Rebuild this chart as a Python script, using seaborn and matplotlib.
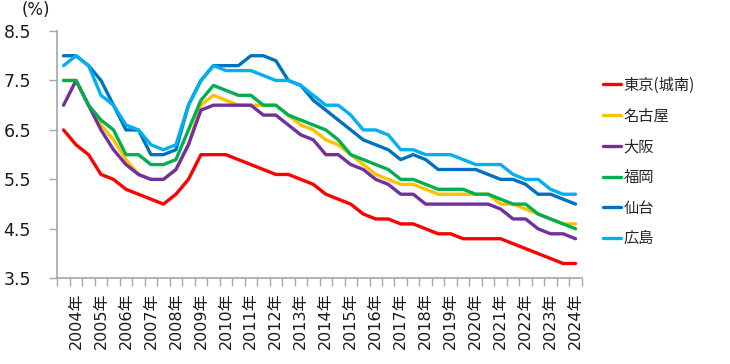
import matplotlib
matplotlib.use("Agg")
import matplotlib.pyplot as plt
import pandas as pd
import seaborn as sns

# semiannual survey points, 2003年10月 .. 2024年4月 (42 points)
tokyo = [6.5, 6.2, 6.0, 5.6, 5.5, 5.3, 5.2, 5.1, 5.0, 5.2, 5.5, 6.0, 6.0, 6.0, 5.9, 5.8, 5.7, 5.6, 5.6, 5.5, 5.4,
         5.2, 5.1, 5.0, 4.8, 4.7, 4.7, 4.6, 4.6, 4.5, 4.4, 4.4, 4.3, 4.3, 4.3, 4.3, 4.2, 4.1, 4.0, 3.9, 3.8, 3.8]
nagoya = [7.5, 7.5, 7.0, 6.6, 6.3, 5.9, 5.6, 5.5, 5.5, 5.7, 6.2, 7.0, 7.2, 7.1, 7.0, 7.0, 7.0, 7.0, 6.8, 6.6, 6.5,
          6.3, 6.2, 6.0, 5.8, 5.6, 5.5, 5.4, 5.4, 5.3, 5.2, 5.2, 5.2, 5.2, 5.2, 5.0, 5.0, 4.9, 4.8, 4.7, 4.6, 4.6]
osaka = [7.0, 7.5, 7.0, 6.5, 6.1, 5.8, 5.6, 5.5, 5.5, 5.7, 6.2, 6.9, 7.0, 7.0, 7.0, 7.0, 6.8, 6.8, 6.6, 6.4, 6.3,
         6.0, 6.0, 5.8, 5.7, 5.5, 5.4, 5.2, 5.2, 5.0, 5.0, 5.0, 5.0, 5.0, 5.0, 4.9, 4.7, 4.7, 4.5, 4.4, 4.4, 4.3]
fukuoka = [7.5, 7.5, 7.0, 6.7, 6.5, 6.0, 6.0, 5.8, 5.8, 5.9, 6.5, 7.1, 7.4, 7.3, 7.2, 7.2, 7.0, 7.0, 6.8, 6.7, 6.6,
           6.5, 6.3, 6.0, 5.9, 5.8, 5.7, 5.5, 5.5, 5.4, 5.3, 5.3, 5.3, 5.2, 5.2, 5.1, 5.0, 5.0, 4.8, 4.7, 4.6, 4.5]
sendai = [8.0, 8.0, 7.8, 7.5, 7.0, 6.5, 6.5, 6.0, 6.0, 6.1, 7.0, 7.5, 7.8, 7.8, 7.8, 8.0, 8.0, 7.9, 7.5, 7.4, 7.1,
          6.9, 6.7, 6.5, 6.3, 6.2, 6.1, 5.9, 6.0, 5.9, 5.7, 5.7, 5.7, 5.7, 5.6, 5.5, 5.5, 5.4, 5.2, 5.2, 5.1, 5.0]
hiroshima = [7.8, 8.0, 7.8, 7.2, 7.0, 6.6, 6.5, 6.2, 6.1, 6.2, 7.0, 7.5, 7.8, 7.7, 7.7, 7.7, 7.6, 7.5, 7.5, 7.4, 7.2,
             7.0, 7.0, 6.8, 6.5, 6.5, 6.4, 6.1, 6.1, 6.0, 6.0, 6.0, 5.9, 5.8, 5.8, 5.8, 5.6, 5.5, 5.5, 5.3, 5.2, 5.2]

cities = ["東京(城南)", "名古屋", "大阪", "福岡", "仙台", "広島"]
colors = ["#FF0000", "#FFC000", "#7030A0", "#00B050", "#0070C0", "#00B0F0"]
year_labels = ["2004年", "2005年", "2006年", "2007年", "2008年", "2009年", "2010年", "2011年", "2012年", "2013年",
               "2014年", "2015年", "2016年", "2017年", "2018年", "2019年", "2020年", "2021年", "2022年", "2023年",
               "2024年"]

series = [tokyo, nagoya, osaka, fukuoka, sendai, hiroshima]
df = pd.concat([pd.DataFrame({"idx": range(len(s)), "rate": s, "city": c}) for c, s in zip(cities, series)])

sns.set_theme(style="white")
plt.rcParams["font.family"] = ["DejaVu Sans", "Noto Sans CJK JP"]

fig = plt.figure(figsize=(7.3, 3.64), dpi=100)
ax = fig.add_axes([0.0785, 0.2354, 0.7185, 0.6794])

sns.lineplot(data=df, x="idx", y="rate", hue="city", hue_order=cities, palette=colors,
             linewidth=2.4, ax=ax, legend=True)

n = len(tokyo)
ax.set_xlim(-0.5, n - 0.5)
ax.set_ylim(3.5, 8.5)
ax.set_yticks([3.5, 4.5, 5.5, 6.5, 7.5, 8.5])
ax.set_yticklabels(["3.5", "4.5", "5.5", "6.5", "7.5", "8.5"])
ax.set_xticks([i - 0.5 for i in range(n + 1)])
ax.set_xticklabels([])
ax.set_xticks(list(range(1, n, 2)), minor=True)
ax.set_xticklabels(year_labels, minor=True, rotation=90)
ax.tick_params(axis="x", which="major", direction="out", length=6, width=1, color="#A6A6A6", bottom=True)
ax.tick_params(axis="x", which="minor", length=0, pad=10, labelsize=11.5, labelcolor="#1a1a1a")
ax.tick_params(axis="y", direction="out", length=6, width=1, color="#A6A6A6", left=True, pad=13,
               labelsize=12.5, labelcolor="#1a1a1a")
ax.set_xlabel("")
ax.set_ylabel("")
for side in ["top", "right"]:
    ax.spines[side].set_visible(False)
for side in ["left", "bottom"]:
    ax.spines[side].set_color("#A6A6A6")
    ax.spines[side].set_linewidth(1.2)

fig.text(36 / 730, 1 - 10 / 364, "(%)", ha="center", va="center", fontsize=12, color="#1a1a1a")

handles, labels = ax.get_legend_handles_labels()
ax.get_legend().remove()
leg = fig.legend(handles, labels, loc="center left", bbox_to_anchor=(0.826, 0.555), frameon=False,
                 handlelength=1.2, handletextpad=0.15, labelspacing=0.9, borderpad=0, borderaxespad=0,
                 prop={"size": 11, "family": ["Noto Sans CJK JP", "DejaVu Sans"]})
for line in leg.get_lines():
    line.set_linewidth(2.4)

fig.savefig("out.png", dpi=100)
